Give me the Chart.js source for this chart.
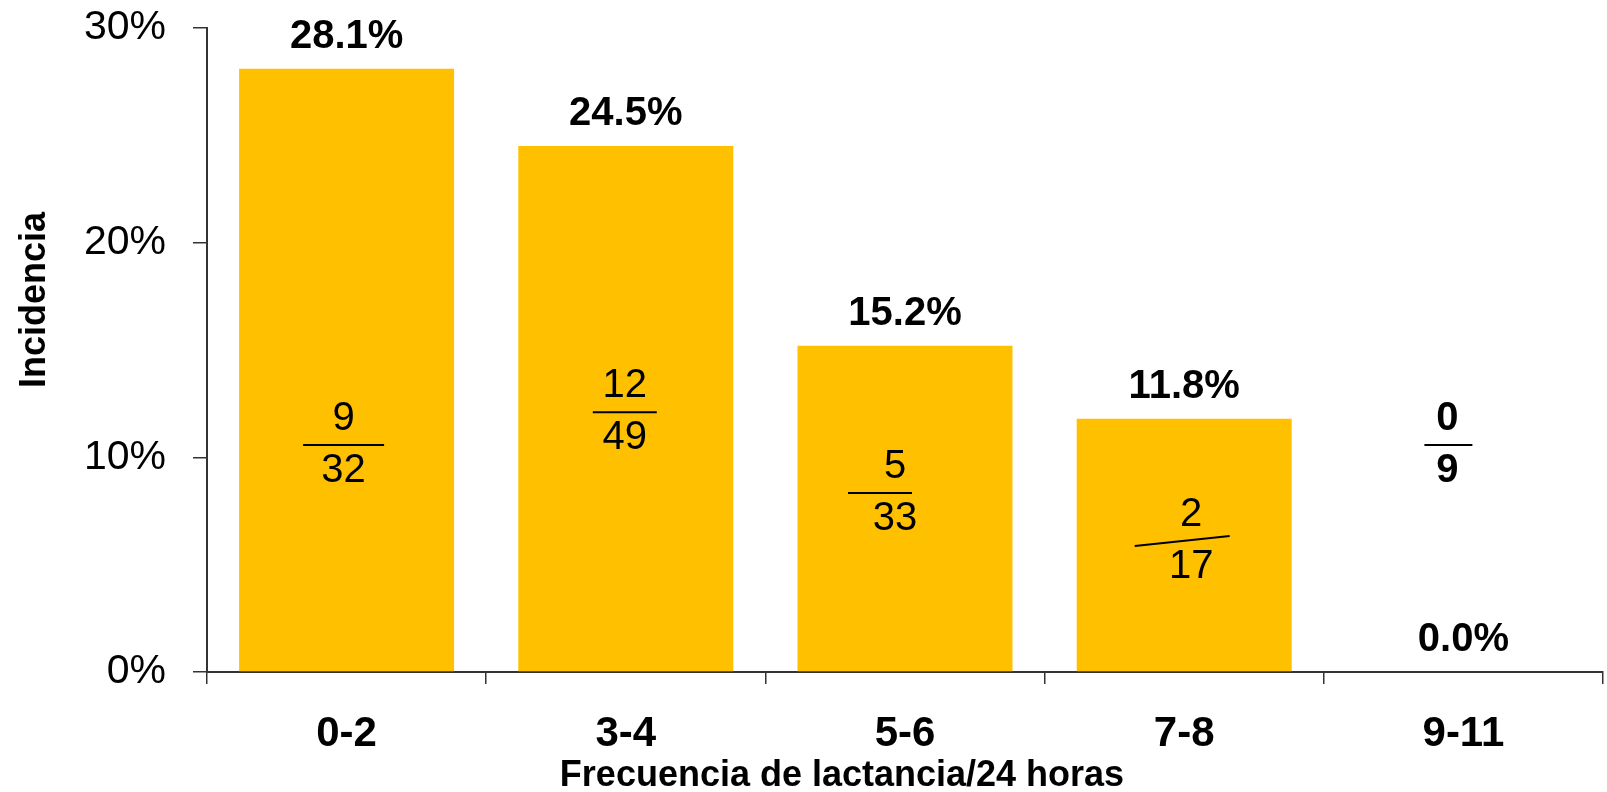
<!DOCTYPE html>
<html><head><meta charset="utf-8">
<script src="https://cdn.jsdelivr.net/npm/chart.js@4.4.0/dist/chart.umd.min.js"></script>
<style>html,body{margin:0;padding:0;background:#fff;overflow:hidden}#wrap{width:1607px;height:792px;position:relative}</style>
</head><body><div id="wrap"><canvas id="c" width="1607" height="792"></canvas></div>
<script>
// ---- data ----
const categories = ['0-2', '3-4', '5-6', '7-8', '9-11'];
const incidence = [28.1, 24.5, 15.2, 11.8, 0.0];
const cases = [9, 12, 5, 2, 0];
const totals = [32, 49, 33, 17, 9];
const yTicks = [0, 10, 20, 30];
const yTitle = 'Incidencia';
const xTitle = 'Frecuencia de lactancia/24 horas';

// ---- placement of the hand-set fraction labels (style only) ----
const fracLayout = [
  {at: 10.57, dx: -3,  lineDx: -3,  lineW: 81, tilt: 0,  bold: false},
  {at: 12.10, dx: -1,  lineDx: -1,  lineW: 64, tilt: 0,  bold: false},
  {at: 8.34,  dx: -10, lineDx: -25, lineW: 64, tilt: 0,  bold: false},
  {at: 6.10,  dx: 7,   lineDx: -2,  lineW: 95, tilt: -10, bold: false},
  {at: 10.57, dx: -16, lineDx: -15, lineW: 48, tilt: 0,  bold: true}
];
const FONT = '"Liberation Sans", Arial, sans-serif';
const AXIS = '#333';

const labelsPlugin = {
  id: 'labels',
  afterDatasetsDraw(chart) {
    const ctx = chart.ctx, meta = chart.getDatasetMeta(0), ys = chart.scales.y;
    ctx.save();
    ctx.fillStyle = '#000';
    ctx.textAlign = 'center';
    ctx.textBaseline = 'alphabetic';
    meta.data.forEach((bar, i) => {
      const cx = bar.x;
      ctx.font = 'bold 40px ' + FONT;
      ctx.fillText(incidence[i].toFixed(1) + '%', cx, bar.y - 21);
      const L = fracLayout[i];
      const ly = ys.getPixelForValue(L.at);
      ctx.font = (L.bold ? 'bold ' : '') + '40px ' + FONT;
      ctx.fillText(String(cases[i]), cx + L.dx, ly - 15);
      ctx.fillText(String(totals[i]), cx + L.dx, ly + 37);
      const lx = cx + L.lineDx;
      ctx.beginPath();
      ctx.lineWidth = 2;
      ctx.strokeStyle = '#000';
      ctx.moveTo(lx - L.lineW / 2, ly - L.tilt / 2);
      ctx.lineTo(lx + L.lineW / 2, ly + L.tilt / 2);
      ctx.stroke();
    });
    // axis titles
    ctx.font = 'bold 36px ' + FONT;
    ctx.fillText(xTitle, 842, 786);
    ctx.save();
    ctx.translate(45, 300);
    ctx.rotate(-Math.PI / 2);
    ctx.fillText(yTitle, 0, 0);
    ctx.restore();
    ctx.restore();
  }
};

new Chart(document.getElementById('c'), {
  type: 'bar',
  data: {
    labels: categories,
    datasets: [{
      data: incidence,
      backgroundColor: '#FFC000',
      borderWidth: 0,
      barPercentage: 0.77,
      categoryPercentage: 1.0
    }]
  },
  options: {
    responsive: false,
    animation: false,
    devicePixelRatio: 1,
    layout: {padding: {top: 28, right: 4, left: 0, bottom: 0}},
    plugins: {legend: {display: false}, tooltip: {enabled: false}},
    scales: {
      x: {
        offset: true,
        grid: {offset: true, drawOnChartArea: false, drawTicks: true, tickLength: 12, color: AXIS, lineWidth: 1.5},
        border: {display: true, color: AXIS, width: 2},
        ticks: {padding: 25, color: '#000', font: {family: FONT, size: 42, weight: 'bold'}},
        afterFit: s => { s.height = 120; s.paddingLeft = 0; s.paddingRight = 0; }
      },
      y: {
        min: 0, max: 30,
        afterBuildTicks: s => { s.ticks = yTicks.map(v => ({value: v})); },
        grid: {drawOnChartArea: false, drawTicks: true, tickLength: 14, color: AXIS, lineWidth: 1.5},
        border: {display: true, color: AXIS, width: 2},
        ticks: {padding: 27, color: '#000', font: {family: FONT, size: 41}, callback: v => v + '%'},
        afterFit: s => { s.width = 207; s.paddingTop = 0; s.paddingBottom = 0; }
      }
    }
  },
  plugins: [labelsPlugin]
});
</script>
</body></html>
